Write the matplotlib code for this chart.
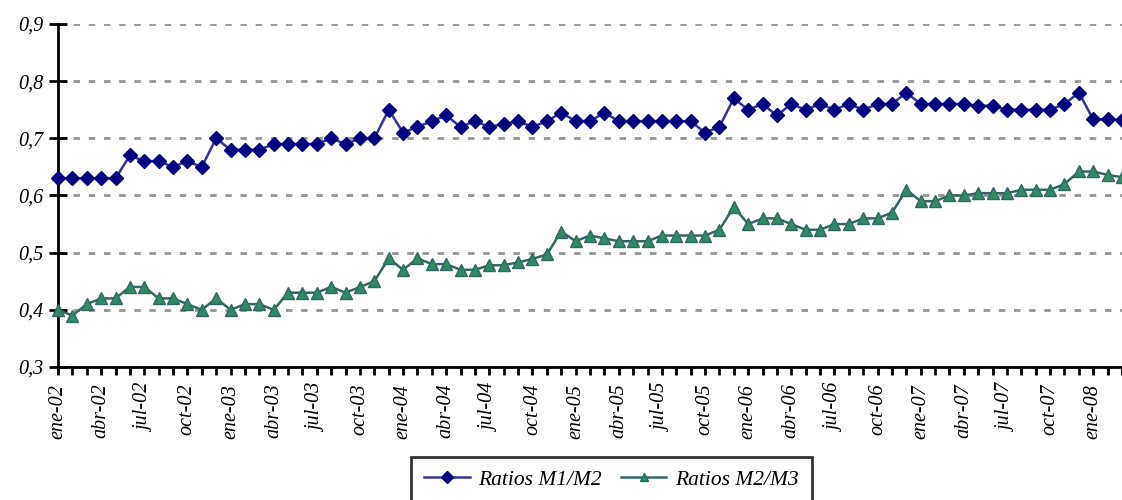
import matplotlib
matplotlib.use("Agg")
import matplotlib.pyplot as plt
import numpy as np

# Monthly ratios, ene-02 .. mar-08
ratio_m1_m2 = [0.63, 0.63, 0.63, 0.63, 0.63, 0.67, 0.66, 0.66, 0.65, 0.66, 0.65, 0.70,
               0.68, 0.68, 0.68, 0.69, 0.69, 0.69, 0.69, 0.70, 0.69, 0.70, 0.70, 0.75,
               0.71, 0.72, 0.73, 0.74, 0.72, 0.73, 0.72, 0.725, 0.73, 0.72, 0.73, 0.745,
               0.73, 0.73, 0.745, 0.73, 0.73, 0.73, 0.73, 0.73, 0.73, 0.71, 0.72, 0.77,
               0.75, 0.76, 0.74, 0.76, 0.75, 0.76, 0.75, 0.76, 0.75, 0.76, 0.76, 0.78,
               0.76, 0.76, 0.76, 0.76, 0.757, 0.757, 0.75, 0.75, 0.75, 0.75, 0.76, 0.78,
               0.733, 0.733, 0.732]
ratio_m2_m3 = [0.40, 0.39, 0.41, 0.42, 0.42, 0.44, 0.44, 0.42, 0.42, 0.41, 0.40, 0.42,
               0.40, 0.41, 0.41, 0.40, 0.43, 0.43, 0.43, 0.44, 0.43, 0.44, 0.45, 0.49,
               0.47, 0.49, 0.48, 0.48, 0.47, 0.47, 0.478, 0.478, 0.483, 0.489, 0.497, 0.537,
               0.52, 0.53, 0.525, 0.52, 0.52, 0.52, 0.53, 0.53, 0.53, 0.53, 0.54, 0.58,
               0.55, 0.56, 0.56, 0.55, 0.54, 0.54, 0.55, 0.55, 0.56, 0.56, 0.57, 0.61,
               0.59, 0.59, 0.60, 0.60, 0.604, 0.604, 0.604, 0.61, 0.61, 0.61, 0.62, 0.642,
               0.642, 0.636, 0.632]

month_names = ["ene", "feb", "mar", "abr", "may", "jun", "jul", "ago", "sep", "oct", "nov", "dic"]
months = [f"{month_names[i % 12]}-{2 + i // 12:02d}" for i in range(len(ratio_m1_m2))]

serif = ["Liberation Serif", "DejaVu Serif"]

x = np.arange(len(months))

fig = plt.figure(figsize=(11.22, 5.0), dpi=100)
ax = fig.add_axes([58 / 1122, 1 - 367 / 500, 1064 / 1122, (367 - 24) / 500])

ax.plot(x, ratio_m1_m2, color="#333399", lw=1.8, marker="D", ms=7,
        markerfacecolor="#000080", markeredgecolor="#000080", label="Ratios M1/M2",
        clip_on=False, zorder=3)
ax.plot(x, ratio_m2_m3, color="#336666", lw=1.8, marker="^", ms=8.5,
        markerfacecolor="#2e8b63", markeredgecolor="#336666", label="Ratios M2/M3",
        clip_on=False, zorder=3)

ax.set_xlim(0, 73.6)
ax.set_ylim(0.3, 0.9)
ax.set_yticks(np.arange(0.3, 0.91, 0.1))
ax.set_yticklabels([f"{v:.1f}".replace(".", ",") for v in np.arange(0.3, 0.91, 0.1)],
                   family=serif, style="italic", fontsize=14.5)
ax.yaxis.grid(True, color="#999999", lw=2.1, linestyle=(0, (2.2, 3)))
ax.set_axisbelow(True)

ax.set_xticks(x[::3])
ax.set_xticklabels(months[::3], rotation=90, family=serif, style="italic", fontsize=14.5)
ax.set_xticks(x, minor=True)

for s in ["top", "right"]:
    ax.spines[s].set_visible(False)
for s in ["left", "bottom"]:
    ax.spines[s].set_linewidth(2)
    ax.spines[s].set_color("black")

ax.tick_params(axis="y", direction="inout", length=13, width=2, pad=4)
ax.tick_params(axis="x", which="both", direction="out", length=6, width=2, pad=6)

leg = fig.legend(loc="upper center", bbox_to_anchor=(0.545, 0.086), ncol=2,
                 prop={"family": serif, "style": "italic", "size": 15.5},
                 frameon=True, fancybox=False, borderpad=0.6, borderaxespad=0,
                 handlelength=2.1, columnspacing=0.9, handletextpad=0.4)
leg.get_frame().set_edgecolor("black")
leg.get_frame().set_linewidth(2)
for h in leg.legend_handles:
    h.set_markersize(6)

fig.savefig("out.png", dpi=100)
